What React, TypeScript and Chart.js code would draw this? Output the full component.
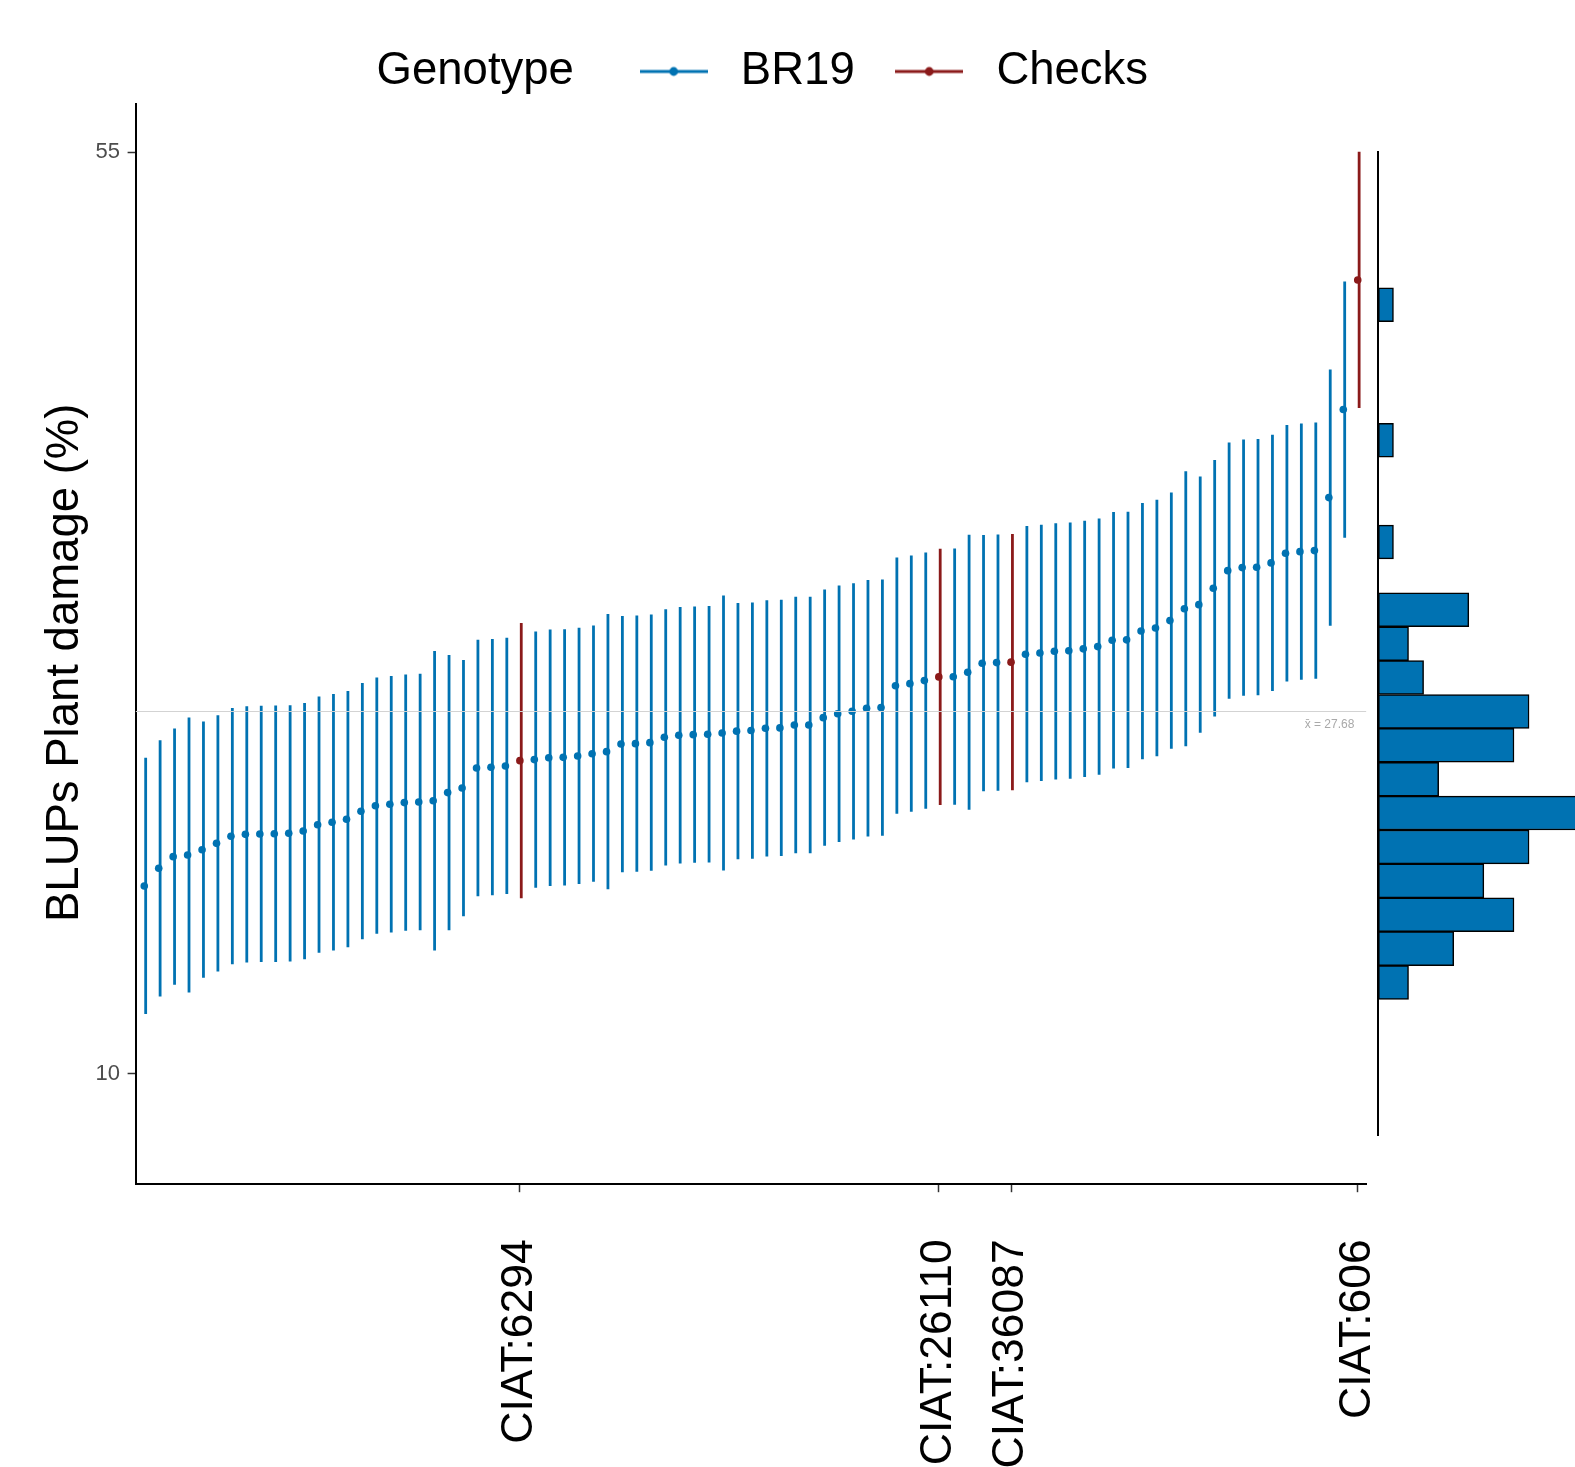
import React, { useEffect, useRef } from 'react';
import { Chart, registerables } from 'chart.js';

Chart.register(...registerables);

const FONT = '"Liberation Sans", Arial, Helvetica, sans-serif';

// BLUPs sorted by rank (1..85), with their lower/upper interval limits
const blups = [
  19.16, 20.02, 20.59, 20.67, 20.93, 21.24, 21.59, 21.68, 21.70, 21.71,
  21.73, 21.84, 22.15, 22.27, 22.42, 22.81, 23.08, 23.15, 23.23, 23.26,
  23.32, 23.72, 23.94, 24.92, 24.96, 25.02, 25.28, 25.33, 25.42, 25.44,
  25.51, 25.62, 25.72, 26.09, 26.11, 26.16, 26.42, 26.52, 26.55, 26.57,
  26.63, 26.72, 26.75, 26.86, 26.88, 27.02, 27.02, 27.38, 27.57, 27.69,
  27.84, 27.87, 28.94, 29.04, 29.19, 29.37, 29.38, 29.60, 30.04, 30.07,
  30.09, 30.48, 30.54, 30.62, 30.65, 30.74, 30.85, 31.16, 31.18, 31.61,
  31.76, 32.12, 32.70, 32.90, 33.70, 34.56, 34.71, 34.73, 34.94, 35.41,
  35.49, 35.54, 38.13, 42.43, 48.76,
];

const lowerCI = [
  12.90, 13.76, 14.33, 13.95, 14.67, 14.98, 15.33, 15.42, 15.44, 15.45,
  15.47, 15.58, 15.89, 16.01, 16.16, 16.55, 16.82, 16.89, 16.97, 17.00,
  16.01, 17.00, 17.68, 18.66, 18.70, 18.76, 18.56, 19.07, 19.16, 19.18,
  19.25, 19.36, 19.00, 19.83, 19.85, 19.90, 20.16, 20.26, 20.29, 20.31,
  19.91, 20.46, 20.49, 20.60, 20.62, 20.76, 20.76, 21.12, 21.31, 21.43,
  21.58, 21.61, 22.68, 22.78, 22.93, 23.11, 23.12, 22.88, 23.78, 23.81,
  23.83, 24.22, 24.28, 24.36, 24.39, 24.48, 24.59, 24.90, 24.92, 25.35,
  25.50, 25.86, 25.98, 26.64, 27.44, 28.30, 28.45, 28.47, 28.68, 29.15,
  29.23, 29.28, 31.87, 36.17, 42.50,
];

const upperCI = [
  25.42, 26.28, 26.85, 27.39, 27.19, 27.50, 27.85, 27.94, 27.96, 27.97,
  27.99, 28.10, 28.41, 28.53, 28.68, 29.07, 29.34, 29.41, 29.49, 29.52,
  30.63, 30.44, 30.20, 31.18, 31.22, 31.28, 32.00, 31.59, 31.68, 31.70,
  31.77, 31.88, 32.44, 32.35, 32.37, 32.42, 32.68, 32.78, 32.81, 32.83,
  33.35, 32.98, 33.01, 33.12, 33.14, 33.28, 33.28, 33.64, 33.83, 33.95,
  34.10, 34.13, 35.20, 35.30, 35.45, 35.63, 35.64, 36.32, 36.30, 36.33,
  36.35, 36.74, 36.80, 36.88, 36.91, 37.00, 37.11, 37.42, 37.44, 37.87,
  38.02, 38.38, 39.42, 39.16, 39.96, 40.82, 40.97, 40.99, 41.20, 41.67,
  41.75, 41.80, 44.39, 48.69, 55.02,
];

// Check genotypes: rank position and name (these are the only x tick labels)
const checkRanks = [27, 56, 61, 85];
const checkLabels = ['CIAT:6294', 'CIAT:26110', 'CIAT:36087', 'CIAT:606'];

const yTicks = [10, 55];
const meanBLUP = 27.68;

const legendTitle = 'Genotype';
const legendLabels = ['BR19', 'Checks'];
const yTitle = 'BLUPs Plant damage (%)';

// Marginal histogram of BLUPs (bottom to top)
const histBinCenters = [
  13.63, 15.08, 16.53, 17.98, 19.44, 20.89, 22.34, 23.79, 25.24, 26.70,
  28.15, 29.60, 31.05, 32.51, 33.96, 35.41, 36.86, 38.31, 39.77, 41.22,
  42.67, 44.12, 45.57, 47.03, 48.48, 49.93, 51.38, 52.83, 54.29,
];
const histCounts = [
  0, 0, 0, 0, 2, 5, 9, 7, 10, 15,
  4, 9, 10, 3, 2, 6, 0, 1, 0, 0,
  1, 0, 0, 0, 1, 0, 0, 0, 0,
];

const BLUE = '#0072B2';
const RED = '#8B1A1A';

export default function App() {
  const mainRef = useRef<HTMLCanvasElement>(null);
  const histRef = useRef<HTMLCanvasElement>(null);

  useEffect(() => {
    Chart.defaults.font.family = FONT;
    const ranks = blups.map((_, i) => i + 1);
    const colors = ranks.map((r) => (checkRanks.includes(r) ? RED : BLUE));

    const makeSymbol = (color: string) => {
      const c = document.createElement('canvas');
      c.width = 68;
      c.height = 12;
      const g = c.getContext('2d')!;
      g.strokeStyle = color;
      g.lineWidth = 2.8;
      g.beginPath();
      g.moveTo(0, 6);
      g.lineTo(68, 6);
      g.stroke();
      g.fillStyle = color;
      g.beginPath();
      g.arc(34, 6, 4.4, 0, Math.PI * 2);
      g.fill();
      return c;
    };
    const blank = document.createElement('canvas');
    blank.width = 1;
    blank.height = 1;

    const legendPad = {
      id: 'legendPad',
      beforeLayout(chart: any) {
        const lg = chart.legend;
        if (lg && !lg.__patched) {
          const f = lg.fit.bind(lg);
          lg.fit = () => {
            f();
            lg.height -= 0.75;
          };
          lg.__patched = true;
        }
      },
    };

    const meanLabel = {
      id: 'meanLabel',
      afterDatasetsDraw(chart: any) {
        const { ctx, chartArea, scales } = chart;
        const y = scales.y.getPixelForValue(meanBLUP);
        ctx.save();
        ctx.font = `12px ${FONT}`;
        ctx.fillStyle = '#A9A9A9';
        ctx.textAlign = 'right';
        ctx.textBaseline = 'middle';
        ctx.fillText(`x\u0304 = ${meanBLUP.toFixed(2)}`, chartArea.right - 12, y + 13.5);
        ctx.restore();
      },
    };

    const main = new Chart(mainRef.current!, {
      type: 'bar',
      data: {
        datasets: [
          {
            type: 'line',
            data: [
              { x: 0, y: meanBLUP },
              { x: 1, y: meanBLUP },
            ],
            xAxisID: 'xm',
            yAxisID: 'y',
            borderColor: '#D3D3D3',
            borderWidth: 1.1,
            pointRadius: 0,
            order: 0,
          } as any,
          {
            type: 'scatter',
            data: ranks.map((r, i) => ({ x: r, y: blups[i] })),
            xAxisID: 'x',
            yAxisID: 'y',
            pointRadius: 3.8,
            pointBackgroundColor: colors,
            pointBorderColor: colors,
            pointBorderWidth: 0,
            order: 1,
          } as any,
          {
            type: 'bar',
            data: ranks.map((r, i) => ({ x: r, y: [lowerCI[i], upperCI[i]] })),
            xAxisID: 'x',
            yAxisID: 'y',
            backgroundColor: colors,
            borderWidth: 0,
            barThickness: 2.8,
            inflateAmount: 0,
            order: 2,
          } as any,
        ],
      },
      options: {
        responsive: false,
        animation: false,
        events: [],
        layout: { padding: { left: 46.64, right: 208.6, top: 18.7, bottom: 0 } },
        plugins: {
          legend: {
            display: true,
            position: 'top',
            align: 'center',
            labels: {
              usePointStyle: true,
              pointStyleWidth: 88.9,
              padding: 30.05,
              color: '#000',
              font: { size: 45.5, family: FONT },
              generateLabels: () => [
                {
                  text: legendTitle + '  ',
                  pointStyle: blank,
                  fillStyle: 'rgba(0,0,0,0)',
                  strokeStyle: 'rgba(0,0,0,0)',
                  lineWidth: 0,
                  hidden: false,
                  fontColor: '#000',
                },
                {
                  text: legendLabels[0],
                  pointStyle: makeSymbol(BLUE),
                  fillStyle: BLUE,
                  strokeStyle: BLUE,
                  lineWidth: 0,
                  hidden: false,
                  fontColor: '#000',
                },
                {
                  text: legendLabels[1],
                  pointStyle: makeSymbol(RED),
                  fillStyle: RED,
                  strokeStyle: RED,
                  lineWidth: 0,
                  hidden: false,
                  fontColor: '#000',
                },
              ],
            },
          } as any,
          tooltip: { enabled: false },
        },
        scales: {
          x: {
            type: 'linear',
            position: 'bottom',
            min: 0.4,
            max: 85.6,
            offset: false,
            afterBuildTicks: (s: any) => {
              s.ticks = checkRanks.map((v) => ({ value: v }));
            },
            afterFit: (s: any) => {
              s.height = 282.8;
            },
            ticks: {
              autoSkip: false,
              maxRotation: 90,
              minRotation: 90,
              padding: 47,
              color: '#000',
              font: { size: 44.5 },
              callback: (v: any) => {
                const k = checkRanks.indexOf(Number(v));
                return k >= 0 ? checkLabels[k] : '';
              },
            },
            grid: {
              display: true,
              drawOnChartArea: false,
              drawTicks: true,
              tickLength: 8,
              tickWidth: 1.5,
              tickColor: '#333333',
              offset: false,
            },
            border: { display: true, color: '#000', width: 2 },
          } as any,
          xm: { type: 'linear', min: 0, max: 1, display: false, offset: false } as any,
          y: {
            type: 'linear',
            min: 4.59,
            max: 57.38,
            afterBuildTicks: (s: any) => {
              s.ticks = yTicks.map((v) => ({ value: v }));
            },
            afterFit: (s: any) => {
              s.width = 88.96;
            },
            ticks: { padding: 7.7, color: '#4D4D4D', font: { size: 22 } },
            grid: {
              display: true,
              drawOnChartArea: false,
              drawTicks: true,
              tickLength: 8,
              tickWidth: 1.5,
              tickColor: '#333333',
            },
            border: { display: true, color: '#000', width: 2 },
            title: {
              display: true,
              text: yTitle + '   ',
              color: '#000',
              font: { size: 45.5, lineHeight: 0.8 },
              padding: { top: 0.46, bottom: 0 },
            },
          } as any,
        },
      },
      plugins: [legendPad, meanLabel],
    });

    const hist = new Chart(histRef.current!, {
      type: 'bar',
      data: {
        labels: histBinCenters.map((v) => String(v)),
        datasets: [
          {
            data: histCounts,
            backgroundColor: BLUE,
            borderColor: '#000',
            borderWidth: 1.5,
            borderSkipped: false,
            barPercentage: 1,
            categoryPercentage: 1,
          } as any,
        ],
      },
      options: {
        indexAxis: 'y',
        responsive: false,
        animation: false,
        events: [],
        layout: { padding: { left: 1378.4, right: 0, top: 152.3, bottom: 332 } },
        plugins: { legend: { display: false }, tooltip: { enabled: false } },
        scales: {
          y: {
            type: 'category',
            reverse: true,
            offset: true,
            ticks: { display: false },
            grid: { display: false, drawTicks: false },
            border: { display: true, color: '#000', width: 2 },
            afterFit: (s: any) => {
              s.width = 0;
            },
          } as any,
          x: { type: 'linear', min: 0, max: 13.05, display: false } as any,
        },
      },
    });

    return () => {
      main.destroy();
      hist.destroy();
    };
  }, []);

  const canvasStyle: React.CSSProperties = {
    position: 'absolute',
    left: 0,
    top: 0,
    display: 'block',
  };

  return (
    <div style={{ position: 'absolute', left: 0, top: 0, width: 1575, height: 1467, background: '#fff' }}>
      <canvas ref={mainRef} width={1575} height={1467} style={canvasStyle} />
      <canvas ref={histRef} width={1575} height={1467} style={canvasStyle} />
    </div>
  );
}
